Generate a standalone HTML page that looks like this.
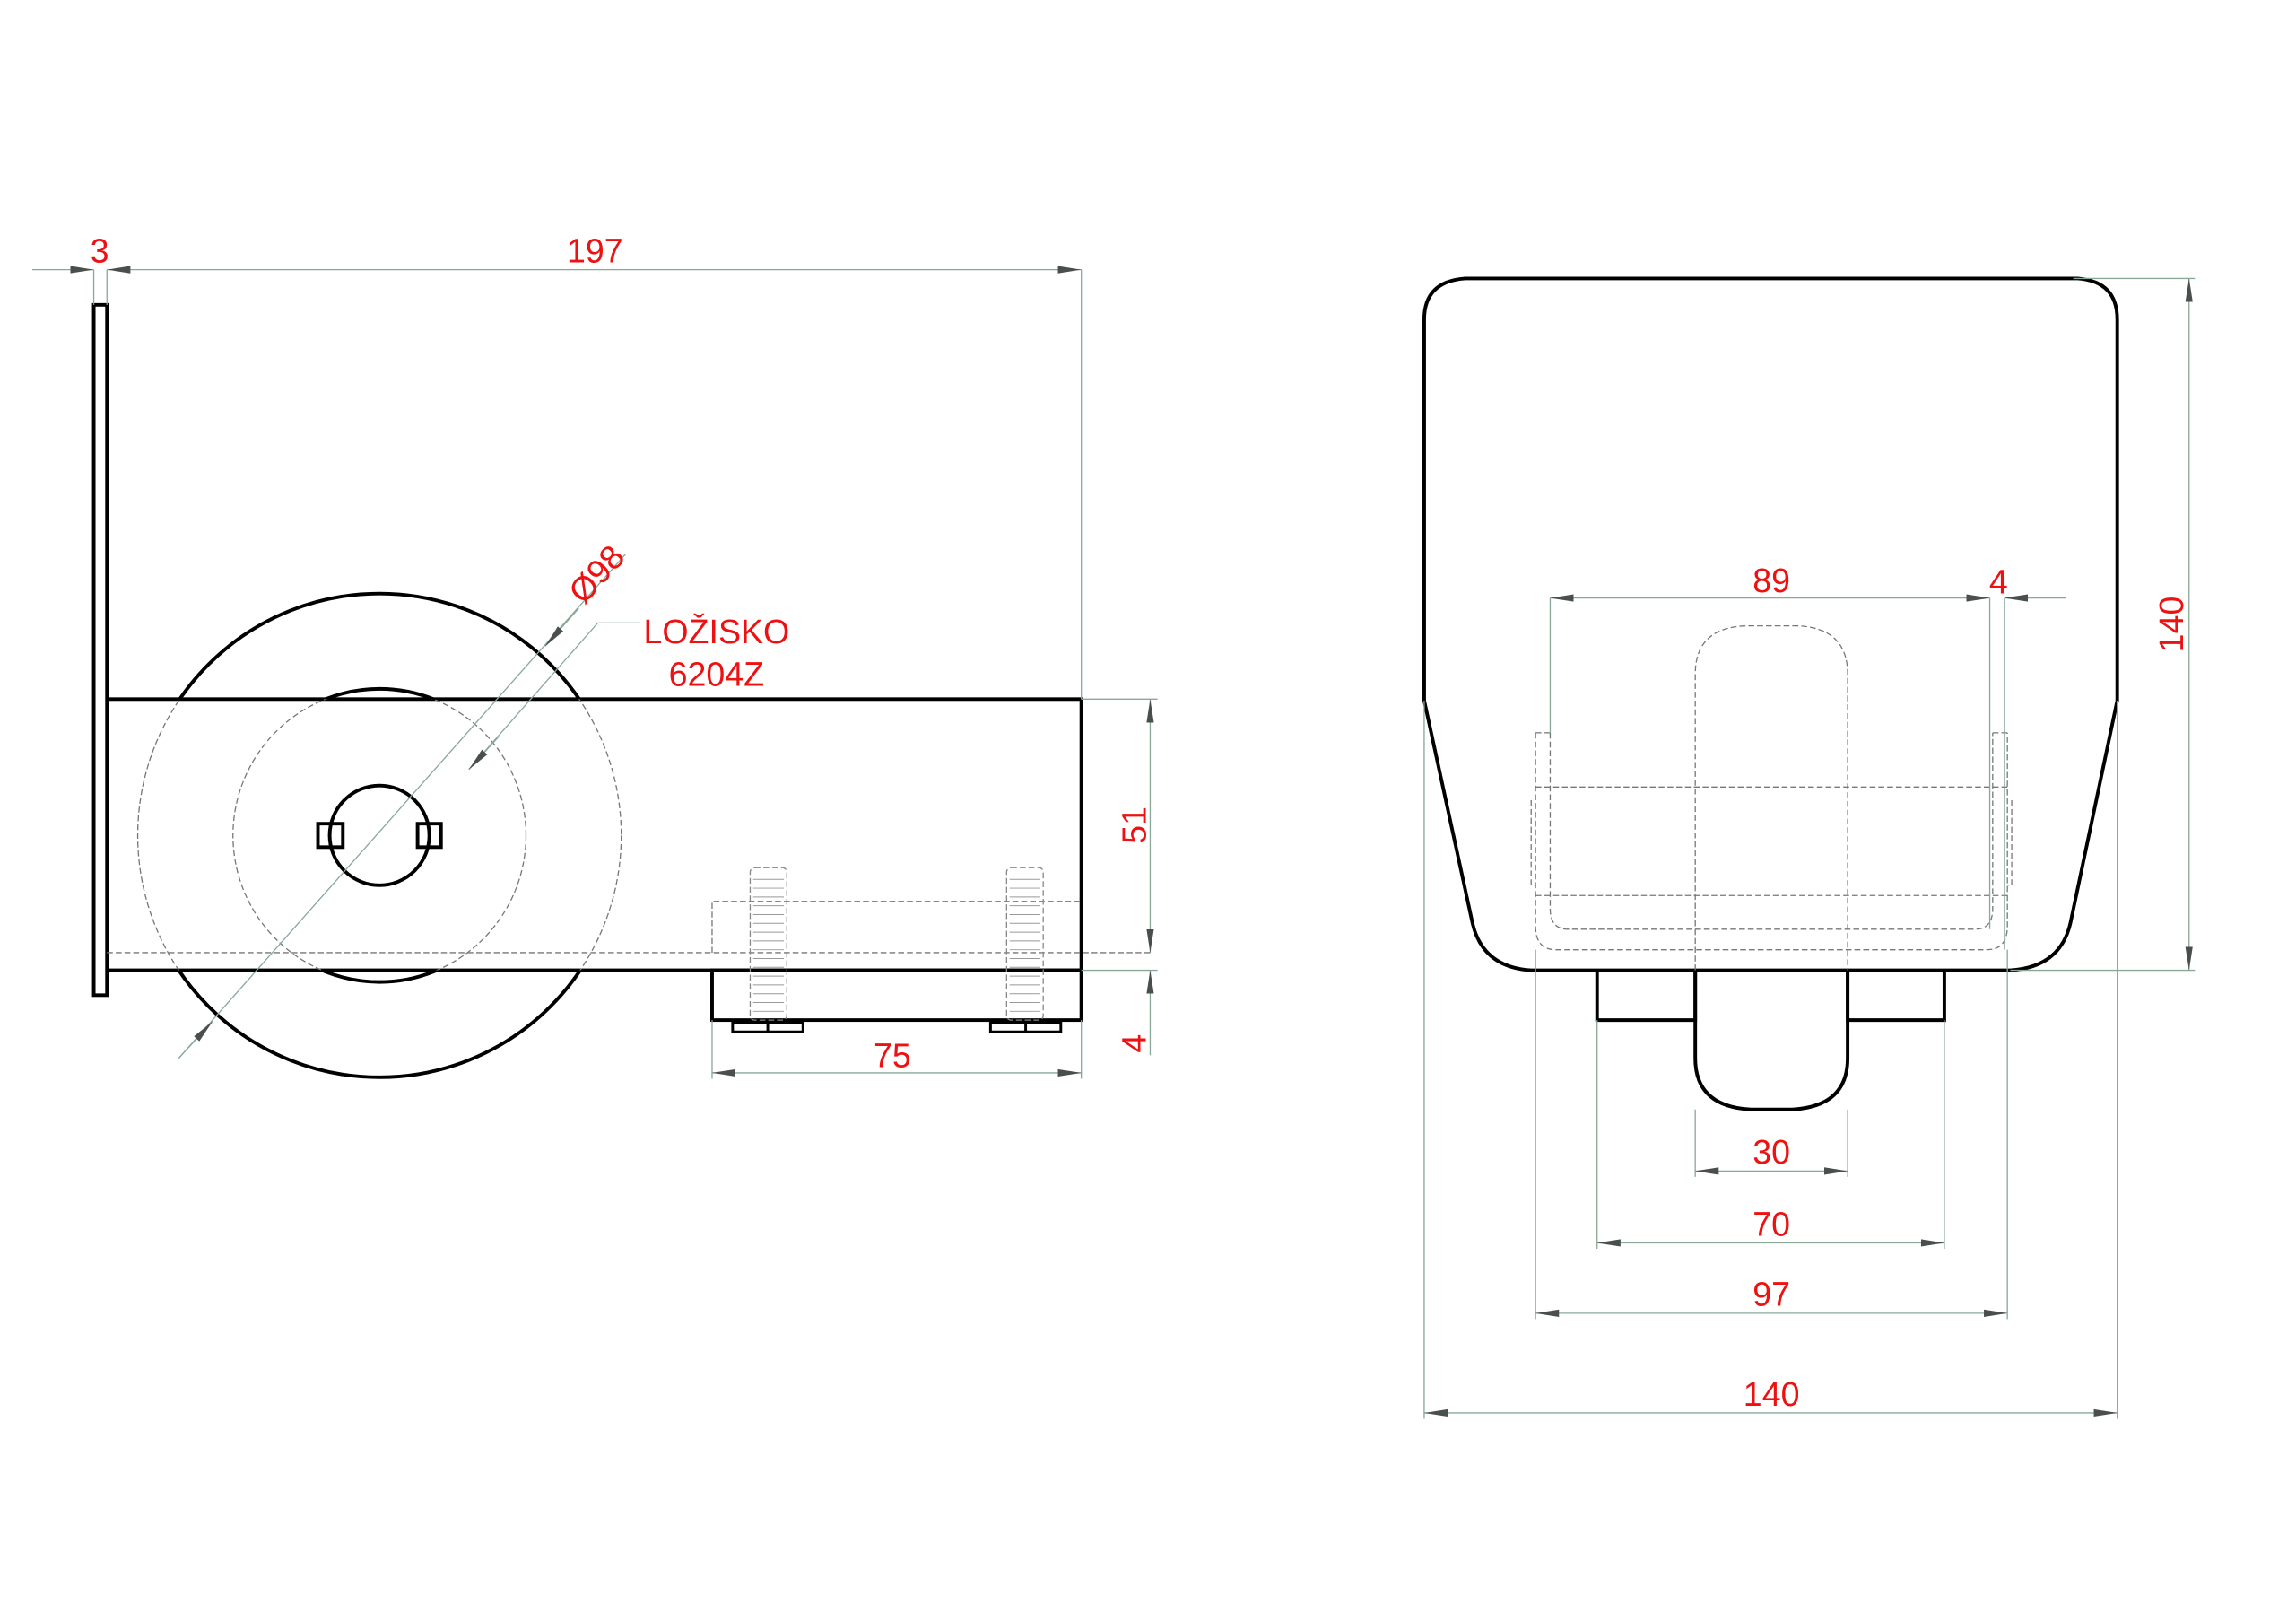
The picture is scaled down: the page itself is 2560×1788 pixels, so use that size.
<!DOCTYPE html>
<html><head><meta charset="utf-8"><style>
html,body{margin:0;padding:0;background:#fff;}
svg{display:block;}
text{font-family:"Liberation Sans",sans-serif;fill:#ee1111;font-size:23px;}
</style></head><body>
<svg width="2560" height="1788" viewBox="0 0 1567 1094.4" preserveAspectRatio="none" xmlns="http://www.w3.org/2000/svg">
<defs>
<marker id="a" viewBox="0 0 16 6" refX="16" refY="3" markerWidth="16" markerHeight="6" markerUnits="userSpaceOnUse" orient="auto-start-reverse"><path d="M0,0.5 L16,3 L0,5.5z" fill="#4a4f4c"/></marker>
<clipPath id="cb"><rect x="73" y="477" width="665" height="185"/></clipPath>
</defs>
<rect width="1567" height="1094.4" fill="#fff"/>
<!-- LEFT VIEW -->
<g fill="none" stroke="#000" stroke-width="2.4">
<circle cx="259" cy="570" r="165"/>
<circle cx="259" cy="570" r="100"/>
<rect x="73" y="477" width="665" height="185" fill="#fff"/>
<rect x="64" y="208" width="9" height="471" fill="#fff"/>
<circle cx="259" cy="570" r="34"/>
<rect x="217" y="562" width="17" height="16"/>
<rect x="285" y="562" width="16" height="16"/>
<rect x="486" y="662" width="252" height="34"/>
<path d="M500,698 h48 v6 h-48z M524,698 v6 M676,698 h48 v6 h-48z M700,698 v6" stroke-width="1.8"/>
</g>
<g fill="none" stroke="#777" stroke-width="0.8" stroke-dasharray="4,2">
<circle cx="259" cy="570" r="165" clip-path="url(#cb)"/>
<circle cx="259" cy="570" r="100" clip-path="url(#cb)"/>
<path d="M73,650 H785"/>
<path d="M486,650 V615 H738"/>
<rect x="512" y="592" width="25" height="104" rx="3" stroke="#888"/>
<rect x="687" y="592" width="25" height="104" rx="3" stroke="#888"/>
</g>
<g stroke="#999" stroke-width="0.6">
<path d="M514,600 h21 M514,606 h21 M514,612 h21 M514,618 h21 M514,624 h21 M514,630 h21 M514,636 h21 M514,642 h21 M514,648 h21 M514,654 h21 M514,660 h21 M514,666 h21 M514,672 h21 M514,678 h21 M514,684 h21 M514,690 h21"/>
<path d="M689,600 h21 M689,606 h21 M689,612 h21 M689,618 h21 M689,624 h21 M689,630 h21 M689,636 h21 M689,642 h21 M689,648 h21 M689,654 h21 M689,660 h21 M689,666 h21 M689,672 h21 M689,678 h21 M689,684 h21 M689,690 h21"/>
</g>
<!-- dims left -->
<g fill="none" stroke="#8aa898" stroke-width="0.8">
<path d="M64,184 V208 M73,184 V208 M738,184 V477 M738,477 H790 M738,662 H790 M486,696 V736 M738,696 V736"/>
<path d="M22,184 H64" marker-end="url(#a)"/>
<path d="M73,184 H738" marker-start="url(#a)" marker-end="url(#a)"/>
<path d="M486,732 H738" marker-start="url(#a)" marker-end="url(#a)"/>
<path d="M785,477 V650" marker-start="url(#a)" marker-end="url(#a)"/>
<path d="M785,720 V662" marker-end="url(#a)"/>
<path d="M122,722 L427,378"/>
<path d="M145,697 L122,722" marker-start="url(#a)"/>
<path d="M372,441 L395,415" marker-start="url(#a)"/>
<path d="M320,525 L408,425 H437"/>
<path d="M340,503 L320,525" marker-end="url(#a)"/>
</g>
<text x="68" y="179" text-anchor="middle">3</text>
<text x="406" y="179" text-anchor="middle">197</text>
<text x="609" y="728" text-anchor="middle">75</text>
<text transform="translate(782,563) rotate(-90)" text-anchor="middle">51</text>
<text transform="translate(782,712) rotate(-90)" text-anchor="middle">4</text>
<text transform="translate(413,397) rotate(-48)" text-anchor="middle">Ø98</text>
<text x="489" y="439" text-anchor="middle">LOŽISKO</text>
<text x="489" y="468" text-anchor="middle">6204Z</text>
<!-- RIGHT VIEW -->
<g fill="none" stroke="#000" stroke-width="2.4">
<path d="M1000,190 H1418 Q1445,192 1445,218 V478 L1413,630 Q1406,660 1372,662 H1045 Q1012,660 1005,630 L972,478 V218 Q972,192 1000,190Z"/>
<path d="M1157,662 V696 H1090 V662 M1261,662 V696 H1327 V662"/>
<path d="M1157,662 V722 Q1157,755 1195,757 H1223 Q1261,755 1261,722 V662"/>
</g>
<g fill="none" stroke="#777" stroke-width="0.8" stroke-dasharray="4,2">
<path d="M1157,662 V460 Q1157,428 1192,427 H1226 Q1261,428 1261,460 V662"/>
<path d="M1048,537 H1370 M1048,611 H1370"/>
<path d="M1058,500 V620 Q1058,634 1070,634 H1348 Q1360,634 1360,620 V500"/>
<path d="M1048,500 V632 Q1048,648 1062,648 H1356 Q1370,648 1370,632 V500"/>
<path d="M1048,500 H1058 M1360,500 H1370 M1045,546 V604 H1048 M1373,546 V604 H1370"/>
</g>
<g fill="none" stroke="#8aa898" stroke-width="0.8">
<path d="M1415,190 H1498 M1372,662 H1498"/>
<path d="M1494,190 V662" marker-start="url(#a)" marker-end="url(#a)"/>
<path d="M1058,408 V500 M1358,408 V634 M1368,408 V648 M1048,648 V900 M1370,648 V900 M1090,696 V852 M1327,696 V852 M1157,757 V803 M1261,757 V803 M972,478 V968 M1445,478 V968"/>
<path d="M1058,408 H1358" marker-start="url(#a)" marker-end="url(#a)"/>
<path d="M1410,408 H1368" marker-end="url(#a)"/>
<path d="M1157,799 H1261" marker-start="url(#a)" marker-end="url(#a)"/>
<path d="M1090,848 H1327" marker-start="url(#a)" marker-end="url(#a)"/>
<path d="M1048,896 H1370" marker-start="url(#a)" marker-end="url(#a)"/>
<path d="M972,964 H1445" marker-start="url(#a)" marker-end="url(#a)"/>
</g>
<text x="1209" y="404" text-anchor="middle">89</text>
<text x="1364" y="405" text-anchor="middle">4</text>
<text transform="translate(1490,426) rotate(-90)" text-anchor="middle">140</text>
<text x="1209" y="794" text-anchor="middle">30</text>
<text x="1209" y="843" text-anchor="middle">70</text>
<text x="1209" y="891" text-anchor="middle">97</text>
<text x="1209" y="959" text-anchor="middle">140</text>
</svg>
</body></html>
